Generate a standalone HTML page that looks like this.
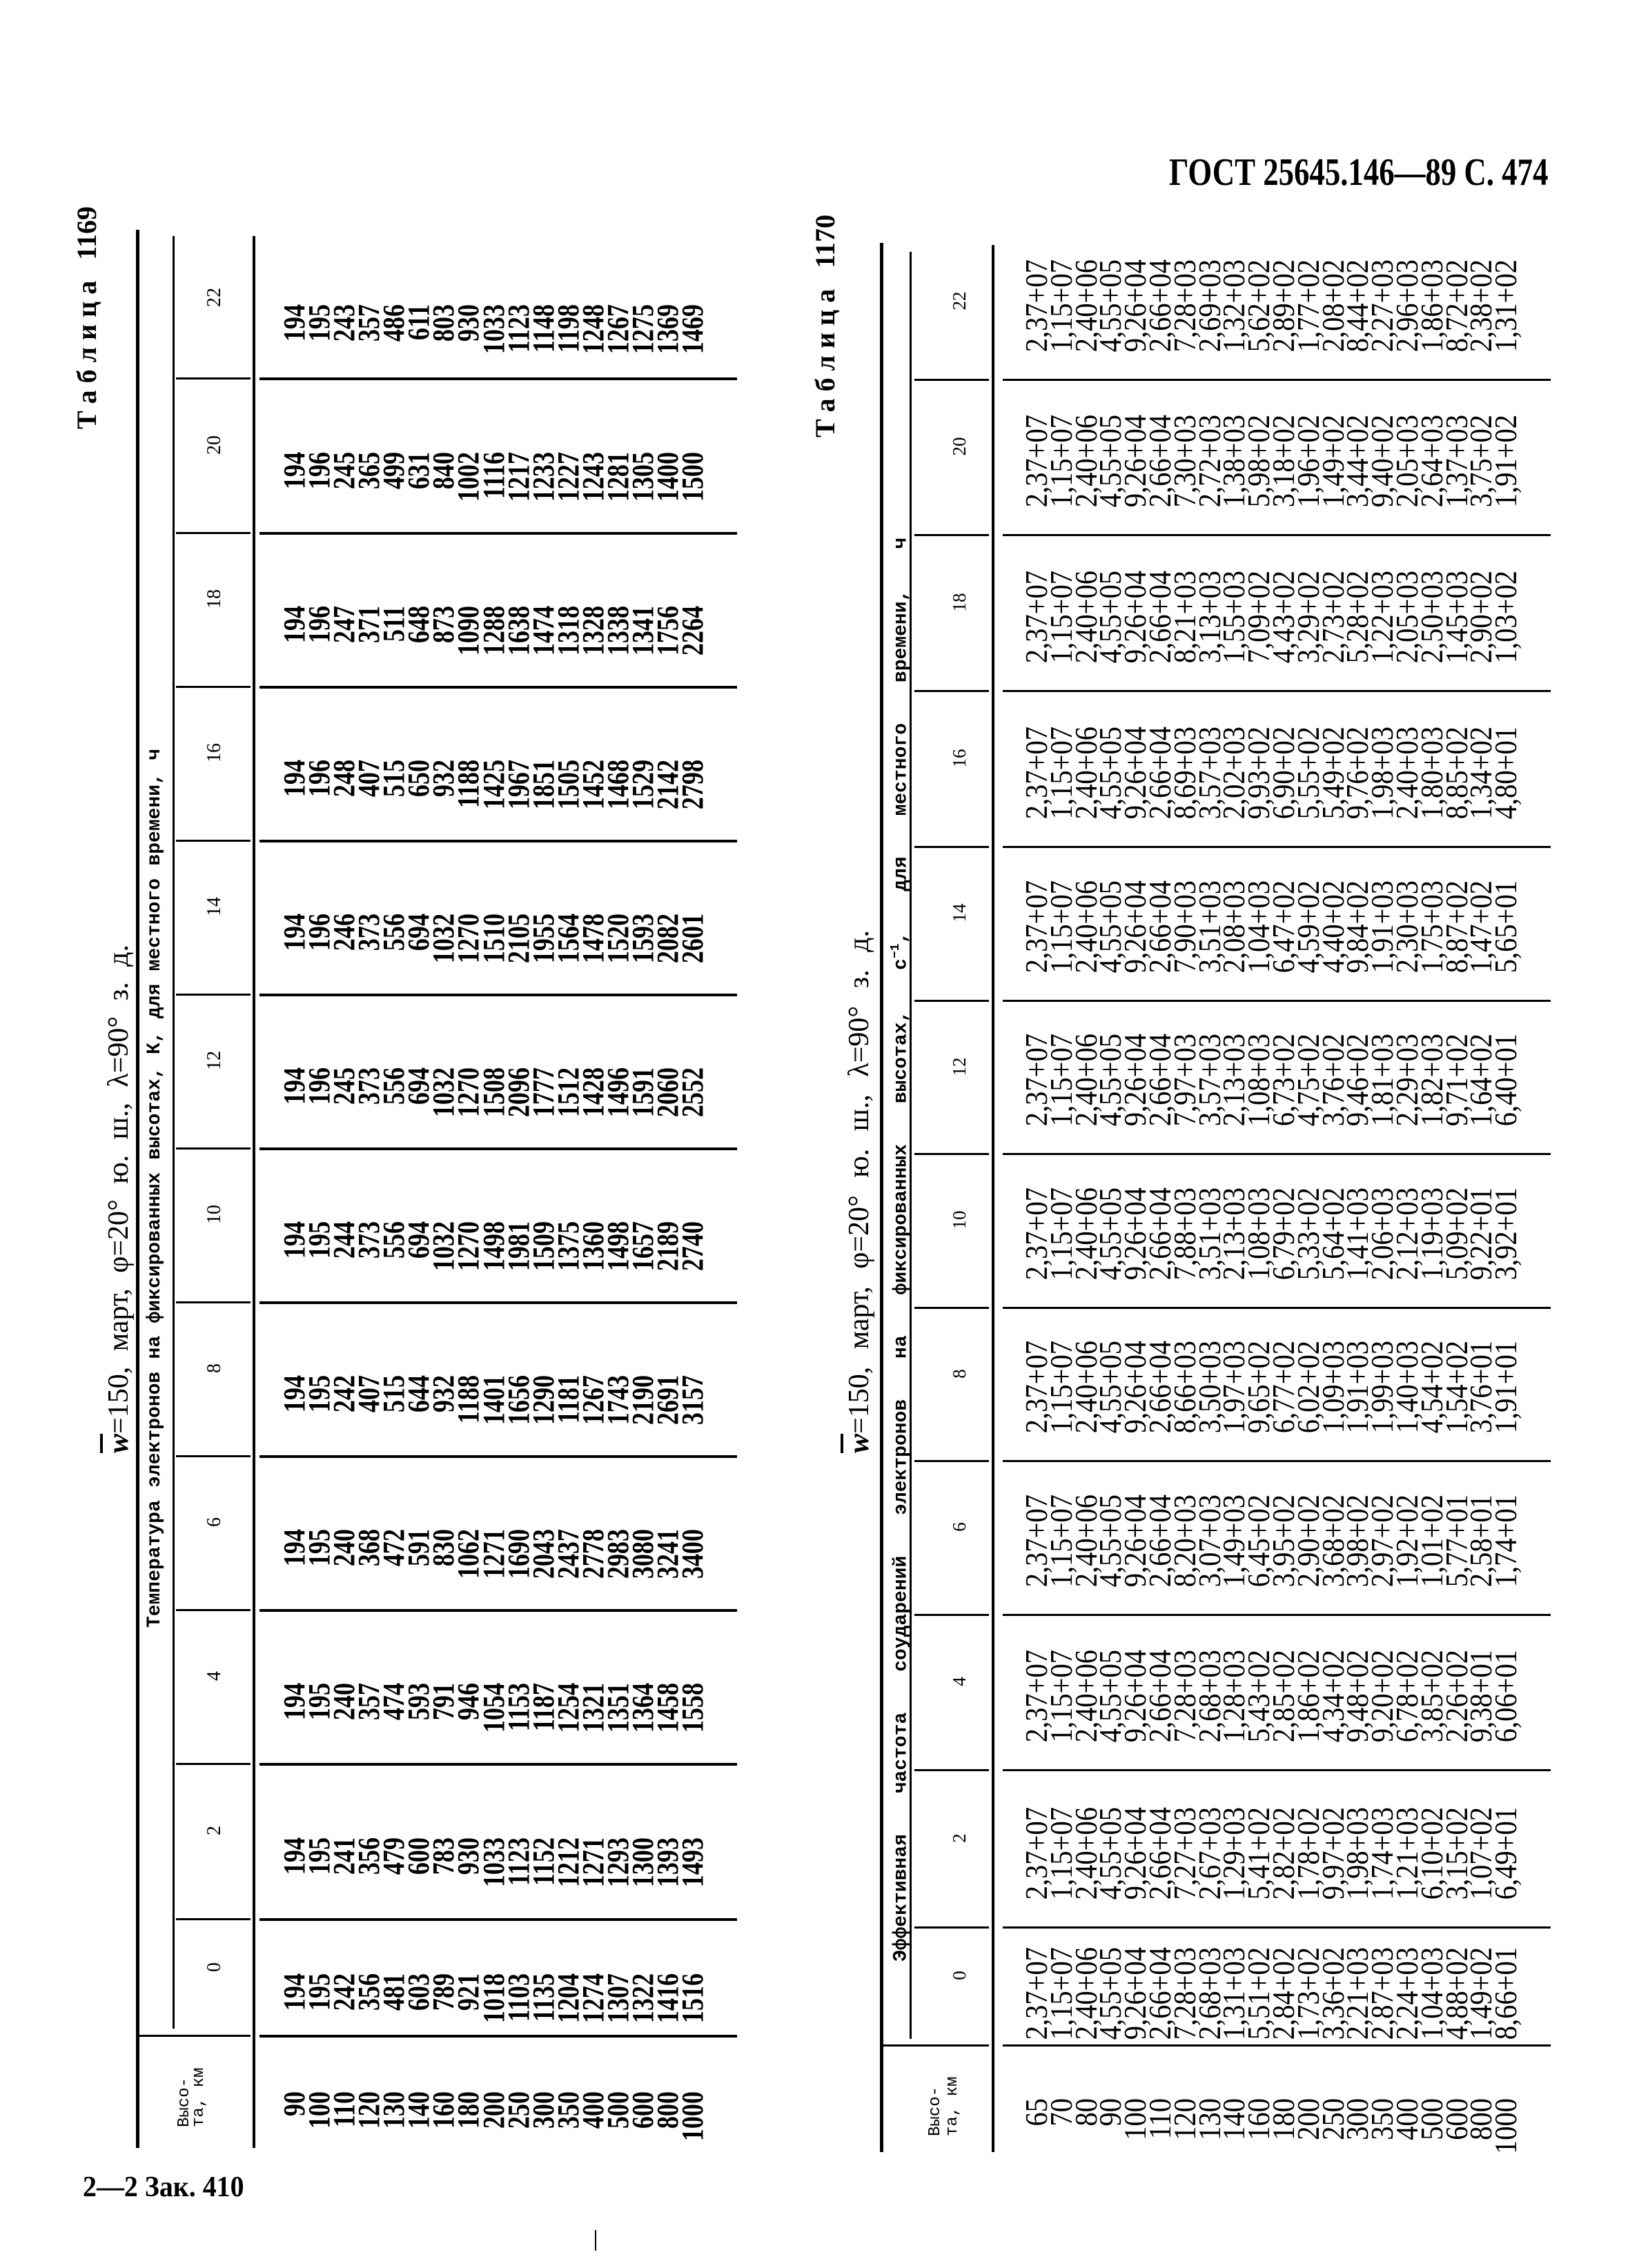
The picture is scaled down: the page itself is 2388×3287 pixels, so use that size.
<!DOCTYPE html>
<html><head><meta charset="utf-8">
<style>
html,body{margin:0;padding:0;background:#fff;}
body{width:2388px;height:3287px;position:relative;overflow:hidden;color:#000;font-family:"Liberation Serif","Noto Serif CJK SC",serif;}
.r{position:absolute;transform-origin:0 0;transform:rotate(-90deg);white-space:nowrap;}
.l{position:absolute;background:#000;}
.d1{font-size:44px;line-height:36.06px;font-weight:bold;width:150px;text-align:right;transform:rotate(-90deg) scaleX(0.82);}
.d2{font-size:45px;line-height:35.8px;width:200px;text-align:right;transform:rotate(-90deg) scaleX(0.9);}
.h1{font-size:28px;line-height:40px;width:100px;text-align:center;left:291px;}
.h2{font-size:27px;line-height:40px;width:100px;text-align:center;left:1370px;}
.j{text-align:justify;text-align-last:justify;}
.mono{font-family:"Liberation Mono",monospace;}
</style></head><body>

<div style="position:absolute;left:1694px;top:218px;font-size:56px;font-weight:bold;line-height:64px;white-space:nowrap;transform-origin:0 0;transform:scaleX(0.8);">ГОСТ 25645.146—89 С. 474</div>
<div style="position:absolute;left:120px;top:3145px;font-size:42px;font-weight:bold;line-height:50px;white-space:nowrap;transform-origin:0 0;transform:scaleX(0.95);">2—2 Зак. 410</div>
<div class="l" style="left:862px;top:3232px;width:2px;height:30px;"></div>

<!-- ===== TABLE 1 ===== -->
<div class="r j" style="left:104px;top:622px;width:305px;font-size:40px;line-height:44px;font-weight:bold;">Т а б л и ц а &nbsp; 1169</div>
<div class="r j" style="left:150px;top:2106px;width:737px;font-size:42px;line-height:44px;"><span style="text-decoration:overline;font-style:italic;font-weight:bold;">w</span>=150, март, φ=20° ю. ш., λ=90° з. д.</div>
<div class="r j mono" style="left:209px;top:2359px;width:1274px;font-size:28px;line-height:32px;font-weight:bold;">Температура электронов на фиксированных высотах, К, для местного времени, ч</div>

<div class="l" style="left:197px;top:333px;width:5px;height:2780px;"></div>
<div class="l" style="left:250px;top:342px;width:3px;height:2598px;"></div>
<div class="l" style="left:366px;top:342px;width:4px;height:2771px;"></div>
<div class="l" style="left:255px;top:547px;width:108px;height:3px;"></div><div class="l" style="left:376px;top:547px;width:692px;height:4px;"></div>
<div class="l" style="left:255px;top:771px;width:108px;height:3px;"></div><div class="l" style="left:376px;top:771px;width:692px;height:4px;"></div>
<div class="l" style="left:255px;top:994px;width:108px;height:3px;"></div><div class="l" style="left:376px;top:994px;width:692px;height:4px;"></div>
<div class="l" style="left:255px;top:1217px;width:108px;height:3px;"></div><div class="l" style="left:376px;top:1217px;width:692px;height:4px;"></div>
<div class="l" style="left:255px;top:1440px;width:108px;height:3px;"></div><div class="l" style="left:376px;top:1440px;width:692px;height:4px;"></div>
<div class="l" style="left:255px;top:1663px;width:108px;height:3px;"></div><div class="l" style="left:376px;top:1663px;width:692px;height:4px;"></div>
<div class="l" style="left:255px;top:1886px;width:108px;height:3px;"></div><div class="l" style="left:376px;top:1886px;width:692px;height:4px;"></div>
<div class="l" style="left:255px;top:2109px;width:108px;height:3px;"></div><div class="l" style="left:376px;top:2109px;width:692px;height:4px;"></div>
<div class="l" style="left:255px;top:2332px;width:108px;height:3px;"></div><div class="l" style="left:376px;top:2332px;width:692px;height:4px;"></div>
<div class="l" style="left:255px;top:2555px;width:108px;height:3px;"></div><div class="l" style="left:376px;top:2555px;width:692px;height:4px;"></div>
<div class="l" style="left:255px;top:2780px;width:108px;height:3px;"></div><div class="l" style="left:376px;top:2780px;width:692px;height:4px;"></div>
<div class="l" style="left:202px;top:2949px;width:161px;height:3px;"></div><div class="l" style="left:376px;top:2949px;width:692px;height:4px;"></div>

<div class="r h1" style="top:481px;">22</div>
<div class="r h1" style="top:695px;">20</div>
<div class="r h1" style="top:918px;">18</div>
<div class="r h1" style="top:1141px;">16</div>
<div class="r h1" style="top:1364px;">14</div>
<div class="r h1" style="top:1587px;">12</div>
<div class="r h1" style="top:1810px;">10</div>
<div class="r h1" style="top:2033px;">8</div>
<div class="r h1" style="top:2256px;">6</div>
<div class="r h1" style="top:2479px;">4</div>
<div class="r h1" style="top:2703px;">2</div>
<div class="r h1" style="top:2901px;">0</div>
<div class="r mono" style="left:257px;top:3083px;width:120px;font-size:24px;line-height:21px;">Высо-<br>та, км</div>

<div class="r d1" style="left:409px;top:564px;">194<br>195<br>243<br>357<br>486<br>611<br>803<br>930<br>1033<br>1123<br>1148<br>1198<br>1248<br>1267<br>1275<br>1369<br>1469</div>
<div class="r d1" style="left:409px;top:778px;">194<br>196<br>245<br>365<br>499<br>631<br>840<br>1002<br>1116<br>1217<br>1233<br>1227<br>1243<br>1281<br>1305<br>1400<br>1500</div>
<div class="r d1" style="left:409px;top:1001px;">194<br>196<br>247<br>371<br>511<br>648<br>873<br>1090<br>1288<br>1638<br>1474<br>1318<br>1328<br>1338<br>1341<br>1756<br>2264</div>
<div class="r d1" style="left:409px;top:1224px;">194<br>196<br>248<br>407<br>515<br>650<br>932<br>1188<br>1425<br>1967<br>1851<br>1505<br>1452<br>1468<br>1529<br>2142<br>2798</div>
<div class="r d1" style="left:409px;top:1447px;">194<br>196<br>246<br>373<br>556<br>694<br>1032<br>1270<br>1510<br>2105<br>1955<br>1564<br>1478<br>1520<br>1593<br>2082<br>2601</div>
<div class="r d1" style="left:409px;top:1670px;">194<br>196<br>245<br>373<br>556<br>694<br>1032<br>1270<br>1508<br>2096<br>1777<br>1512<br>1428<br>1496<br>1591<br>2060<br>2552</div>
<div class="r d1" style="left:409px;top:1893px;">194<br>195<br>244<br>373<br>556<br>694<br>1032<br>1270<br>1498<br>1981<br>1509<br>1375<br>1360<br>1498<br>1657<br>2189<br>2740</div>
<div class="r d1" style="left:409px;top:2116px;">194<br>195<br>242<br>407<br>515<br>644<br>932<br>1188<br>1401<br>1656<br>1290<br>1181<br>1267<br>1743<br>2190<br>2691<br>3157</div>
<div class="r d1" style="left:409px;top:2339px;">194<br>195<br>240<br>368<br>472<br>591<br>830<br>1062<br>1271<br>1690<br>2043<br>2437<br>2778<br>2983<br>3080<br>3241<br>3400</div>
<div class="r d1" style="left:409px;top:2562px;">194<br>195<br>240<br>357<br>474<br>593<br>791<br>946<br>1054<br>1153<br>1187<br>1254<br>1321<br>1351<br>1364<br>1458<br>1558</div>
<div class="r d1" style="left:409px;top:2786px;">194<br>195<br>241<br>356<br>479<br>600<br>783<br>930<br>1033<br>1123<br>1152<br>1212<br>1271<br>1293<br>1300<br>1393<br>1493</div>
<div class="r d1" style="left:409px;top:2983px;">194<br>195<br>242<br>356<br>481<br>603<br>789<br>921<br>1018<br>1103<br>1135<br>1204<br>1274<br>1307<br>1322<br>1416<br>1516</div>
<div class="r d1" style="left:409px;top:3154px;">90<br>100<br>110<br>120<br>130<br>140<br>160<br>180<br>200<br>250<br>300<br>350<br>400<br>500<br>600<br>800<br>1000</div>

<!-- ===== TABLE 2 ===== -->
<div class="r j" style="left:1174px;top:634px;width:306px;font-size:40px;line-height:44px;font-weight:bold;">Т а б л и ц а &nbsp; 1170</div>
<div class="r j" style="left:1223px;top:2106px;width:758px;font-size:42px;line-height:44px;"><span style="text-decoration:overline;font-style:italic;font-weight:bold;">w</span>=150, март, φ=20° ю. ш., λ=90° з. д.</div>
<div class="r j mono" style="left:1282px;top:2843px;width:2064px;font-size:28px;line-height:32px;font-weight:bold;">Эффективная частота соударений электронов на фиксированных высотах, с<sup style="font-size:18px;">−1</sup>, для местного времени, ч</div>

<div class="l" style="left:1275px;top:352px;width:5px;height:2767px;"></div>
<div class="l" style="left:1318px;top:365px;width:3px;height:2590px;"></div>
<div class="l" style="left:1437px;top:355px;width:4px;height:2764px;"></div>
<div class="l" style="left:1325px;top:549px;width:108px;height:3px;"></div><div class="l" style="left:1453px;top:549px;width:794px;height:3px;"></div>
<div class="l" style="left:1325px;top:774px;width:108px;height:3px;"></div><div class="l" style="left:1453px;top:774px;width:794px;height:3px;"></div>
<div class="l" style="left:1325px;top:1000px;width:108px;height:3px;"></div><div class="l" style="left:1453px;top:1000px;width:794px;height:3px;"></div>
<div class="l" style="left:1325px;top:1226px;width:108px;height:3px;"></div><div class="l" style="left:1453px;top:1226px;width:794px;height:3px;"></div>
<div class="l" style="left:1325px;top:1449px;width:108px;height:3px;"></div><div class="l" style="left:1453px;top:1449px;width:794px;height:3px;"></div>
<div class="l" style="left:1325px;top:1671px;width:108px;height:3px;"></div><div class="l" style="left:1453px;top:1671px;width:794px;height:3px;"></div>
<div class="l" style="left:1325px;top:1894px;width:108px;height:3px;"></div><div class="l" style="left:1453px;top:1894px;width:794px;height:3px;"></div>
<div class="l" style="left:1325px;top:2116px;width:108px;height:3px;"></div><div class="l" style="left:1453px;top:2116px;width:794px;height:3px;"></div>
<div class="l" style="left:1325px;top:2339px;width:108px;height:3px;"></div><div class="l" style="left:1453px;top:2339px;width:794px;height:3px;"></div>
<div class="l" style="left:1325px;top:2564px;width:108px;height:3px;"></div><div class="l" style="left:1453px;top:2564px;width:794px;height:3px;"></div>
<div class="l" style="left:1325px;top:2792px;width:108px;height:3px;"></div><div class="l" style="left:1453px;top:2792px;width:794px;height:3px;"></div>
<div class="l" style="left:1280px;top:2963px;width:153px;height:3px;"></div><div class="l" style="left:1453px;top:2963px;width:794px;height:3px;"></div>

<div class="r h2" style="top:486px;">22</div>
<div class="r h2" style="top:697px;">20</div>
<div class="r h2" style="top:923px;">18</div>
<div class="r h2" style="top:1149px;">16</div>
<div class="r h2" style="top:1373px;">14</div>
<div class="r h2" style="top:1596px;">12</div>
<div class="r h2" style="top:1818px;">10</div>
<div class="r h2" style="top:2041px;">8</div>
<div class="r h2" style="top:2263px;">6</div>
<div class="r h2" style="top:2487px;">4</div>
<div class="r h2" style="top:2714px;">2</div>
<div class="r h2" style="top:2913px;">0</div>
<div class="r mono" style="left:1343px;top:3096px;width:120px;font-size:24px;line-height:25px;">Высо-<br>та, км</div>

<div class="r d2" style="left:1485px;top:556px;">2,37+07<br>1,15+07<br>2,40+06<br>4,55+05<br>9,26+04<br>2,66+04<br>7,28+03<br>2,69+03<br>1,32+03<br>5,62+02<br>2,89+02<br>1,77+02<br>2,08+02<br>8,44+02<br>2,27+03<br>2,96+03<br>1,86+03<br>8,72+02<br>2,38+02<br>1,31+02</div>
<div class="r d2" style="left:1485px;top:781px;">2,37+07<br>1,15+07<br>2,40+06<br>4,55+05<br>9,26+04<br>2,66+04<br>7,30+03<br>2,72+03<br>1,38+03<br>5,98+02<br>3,18+02<br>1,96+02<br>1,49+02<br>3,44+02<br>9,40+02<br>2,05+03<br>2,64+03<br>1,37+03<br>3,75+02<br>1,91+02</div>
<div class="r d2" style="left:1485px;top:1007px;">2,37+07<br>1,15+07<br>2,40+06<br>4,55+05<br>9,26+04<br>2,66+04<br>8,21+03<br>3,13+03<br>1,55+03<br>7,09+02<br>4,43+02<br>3,29+02<br>2,73+02<br>5,28+02<br>1,22+03<br>2,05+03<br>2,50+03<br>1,45+03<br>2,90+02<br>1,03+02</div>
<div class="r d2" style="left:1485px;top:1233px;">2,37+07<br>1,15+07<br>2,40+06<br>4,55+05<br>9,26+04<br>2,66+04<br>8,69+03<br>3,57+03<br>2,02+03<br>9,93+02<br>6,90+02<br>5,55+02<br>5,49+02<br>9,76+02<br>1,98+03<br>2,40+03<br>1,80+03<br>8,85+02<br>1,34+02<br>4,80+01</div>
<div class="r d2" style="left:1485px;top:1456px;">2,37+07<br>1,15+07<br>2,40+06<br>4,55+05<br>9,26+04<br>2,66+04<br>7,90+03<br>3,51+03<br>2,08+03<br>1,04+03<br>6,47+02<br>4,59+02<br>4,40+02<br>9,84+02<br>1,91+03<br>2,30+03<br>1,75+03<br>8,87+02<br>1,47+02<br>5,65+01</div>
<div class="r d2" style="left:1485px;top:1678px;">2,37+07<br>1,15+07<br>2,40+06<br>4,55+05<br>9,26+04<br>2,66+04<br>7,97+03<br>3,57+03<br>2,13+03<br>1,08+03<br>6,73+02<br>4,75+02<br>3,76+02<br>9,46+02<br>1,81+03<br>2,29+03<br>1,82+03<br>9,71+02<br>1,64+02<br>6,40+01</div>
<div class="r d2" style="left:1485px;top:1901px;">2,37+07<br>1,15+07<br>2,40+06<br>4,55+05<br>9,26+04<br>2,66+04<br>7,88+03<br>3,51+03<br>2,13+03<br>1,08+03<br>6,79+02<br>5,33+02<br>5,64+02<br>1,41+03<br>2,06+03<br>2,12+03<br>1,19+03<br>5,09+02<br>9,22+01<br>3,92+01</div>
<div class="r d2" style="left:1485px;top:2123px;">2,37+07<br>1,15+07<br>2,40+06<br>4,55+05<br>9,26+04<br>2,66+04<br>8,66+03<br>3,50+03<br>1,97+03<br>9,65+02<br>6,77+02<br>6,02+02<br>1,09+03<br>1,91+03<br>1,99+03<br>1,40+03<br>4,54+02<br>1,54+02<br>3,76+01<br>1,91+01</div>
<div class="r d2" style="left:1485px;top:2346px;">2,37+07<br>1,15+07<br>2,40+06<br>4,55+05<br>9,26+04<br>2,66+04<br>8,20+03<br>3,07+03<br>1,49+03<br>6,45+02<br>3,95+02<br>2,90+02<br>3,68+02<br>3,98+02<br>2,97+02<br>1,92+02<br>1,01+02<br>5,77+01<br>2,58+01<br>1,74+01</div>
<div class="r d2" style="left:1485px;top:2571px;">2,37+07<br>1,15+07<br>2,40+06<br>4,55+05<br>9,26+04<br>2,66+04<br>7,28+03<br>2,68+03<br>1,28+03<br>5,43+02<br>2,85+02<br>1,86+02<br>4,34+02<br>9,48+02<br>9,20+02<br>6,78+02<br>3,85+02<br>2,26+02<br>9,38+01<br>6,06+01</div>
<div class="r d2" style="left:1485px;top:2799px;">2,37+07<br>1,15+07<br>2,40+06<br>4,55+05<br>9,26+04<br>2,66+04<br>7,27+03<br>2,67+03<br>1,29+03<br>5,41+02<br>2,82+02<br>1,78+02<br>9,97+02<br>1,98+03<br>1,74+03<br>1,21+03<br>6,10+02<br>3,15+02<br>1,07+02<br>6,49+01</div>
<div class="r d2" style="left:1485px;top:3002px;">2,37+07<br>1,15+07<br>2,40+06<br>4,55+05<br>9,26+04<br>2,66+04<br>7,28+03<br>2,68+03<br>1,31+03<br>5,51+02<br>2,84+02<br>1,73+02<br>3,36+02<br>2,21+03<br>2,87+03<br>2,24+03<br>1,04+03<br>4,88+02<br>1,49+02<br>8,66+01</div>
<div class="r d2" style="left:1485px;top:3221px;">65<br>70<br>80<br>90<br>100<br>110<br>120<br>130<br>140<br>160<br>180<br>200<br>250<br>300<br>350<br>400<br>500<br>600<br>800<br>1000</div>

</body></html>
